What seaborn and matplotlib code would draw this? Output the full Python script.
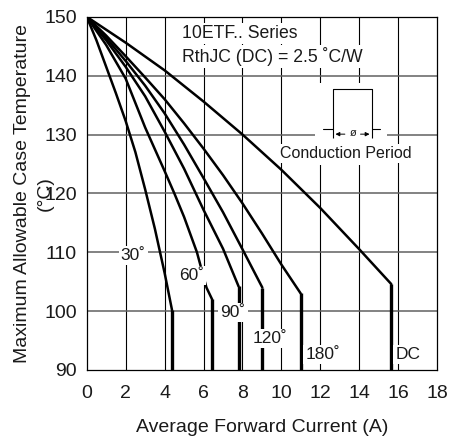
import matplotlib
matplotlib.use("Agg")
import matplotlib.pyplot as plt
import pandas as pd
import seaborn as sns

# values (A, degC)
current_30 = [0, 0.5, 1.0, 1.5, 2.0, 2.5, 3.0, 3.5, 4.0, 4.38]
temp_30 = [150, 146, 141.5, 137, 132.3, 127, 120.7, 114, 106.5, 100.2]
current_60 = [0, 1, 2, 3, 4, 4.5, 5, 5.66, 6.15, 6.44]
temp_60 = [150, 145.2, 139.5, 131.2, 123.8, 120, 116, 110, 104, 102]
current_90 = [0, 1, 2, 3, 4, 5, 6, 7, 7.8]
temp_90 = [150, 146, 141.5, 136.5, 130.5, 124.2, 117.2, 110.6, 104.2]
current_120 = [0, 1, 2, 3, 4, 5, 6, 7, 8, 9.02]
temp_120 = [150, 146.4, 142.5, 138.3, 133.6, 128.3, 122.6, 116.8, 110.5, 104]
current_180 = [0, 1, 2, 3, 4, 5, 6, 7, 8, 9, 10, 10.99]
temp_180 = [150, 146.8, 143.3, 139.7, 136, 131.9, 127.6, 123.1, 118.3, 113.2, 107.9, 103]
current_dc = [0, 2, 4, 6, 8, 10, 12, 14, 15.64]
temp_dc = [150, 145.6, 140.9, 135.6, 130, 124, 117.5, 110.5, 104.6]

curve_names = ["30˚", "60˚", "90˚", "120˚", "180˚", "DC"]
curves = [(current_30, temp_30), (current_60, temp_60), (current_90, temp_90),
          (current_120, temp_120), (current_180, temp_180), (current_dc, temp_dc)]
label_pos = [(2.39, 109.4), (5.38, 106.1), (7.52, 99.75), (9.4, 95.4), (12.13, 92.6), (16.5, 92.6)]

x_ticks = list(range(0, 19, 2))
y_ticks = list(range(90, 151, 10))

sns.set_style("white")
plt.rcParams["font.family"] = ["Liberation Sans", "DejaVu Sans"]
plt.rcParams["text.color"] = "#1a1a1a"

fig = plt.figure(figsize=(4.54, 4.41), dpi=100)
ax = fig.add_axes([0.191, 0.161, 0.772, 0.801])

rows = []
for name, (cur, tmp) in zip(curve_names, curves):
    for c, t in zip(cur, tmp):
        rows.append({"angle": name, "current": c, "temp": t})
df = pd.DataFrame(rows)

sns.lineplot(data=df, x="current", y="temp", hue="angle", units="angle", estimator=None,
             palette={n: "black" for n in curve_names}, legend=False, lw=1.8, ax=ax, zorder=3)

# vertical drop at the end of each curve
ends_x = [c[0][-1] for c in curves]
ends_y = [c[1][-1] for c in curves]
ax.vlines(ends_x, y_ticks[0], ends_y, color="black", lw=2.4, zorder=3)

ax.set_xlim(0, 18)
ax.set_ylim(90, 150)
ax.set_xticks(x_ticks)
ax.set_yticks(y_ticks)
ax.tick_params(axis="both", length=0, labelsize=14, labelcolor="#1a1a1a")
ax.tick_params(axis="x", pad=11)
ax.tick_params(axis="y", pad=7)

for x in x_ticks[1:-1]:
    ax.axvline(x, color="black", lw=0.8, zorder=1)
for y in y_ticks[1:-1]:
    ax.axhline(y, color="#606060", lw=1.1, zorder=1)
for sp in ax.spines.values():
    sp.set_color("black")
    sp.set_linewidth(0.9)

ax.set_xlabel("Average Forward Current (A)", fontsize=14, color="#1a1a1a")
ax.set_ylabel("Maximum Allowable Case Temperature", fontsize=14, color="#1a1a1a")
ax.xaxis.set_label_coords(0.5, -0.14)
ax.yaxis.set_label_coords(-0.16, 0.5)
ax.text(-0.119, 0.5, "(°C)", transform=ax.transAxes, rotation=90, fontsize=14,
        ha="center", va="center", color="#1a1a1a")

box = dict(facecolor="white", edgecolor="none", pad=1.5)
for name, (lx, ly) in zip(curve_names, label_pos):
    ax.text(lx, ly, name, fontsize=12.5, ha="center", va="center", bbox=box, zorder=4)

ax.text(4.9, 147.2, "10ETF.. Series", fontsize=12.7, ha="left", va="center", bbox=box, zorder=4)
ax.text(4.9, 143.2, "RthJC (DC) = 2.5 ˚C/W", fontsize=12.7, ha="left", va="center", bbox=box, zorder=4)

# conduction period sketch
ax.add_patch(plt.Rectangle((11.73, 124.8), 3.69, 13.9, facecolor="white", edgecolor="none", zorder=2))
ax.plot([12.15, 12.63, 12.63, 14.67, 14.67, 15.06], [130.91, 130.91, 137.71, 137.71, 130.91, 130.91],
        color="black", lw=0.8, zorder=4)
ax.vlines([12.63, 14.67], 129.33, 130.91, color="black", lw=0.8, zorder=4)
ax.annotate("", xy=(12.63, 130.06), xytext=(13.4, 130.06),
            arrowprops=dict(arrowstyle="-|>", color="black", lw=0.7, mutation_scale=6), zorder=4)
ax.annotate("", xy=(14.67, 130.06), xytext=(13.92, 130.06),
            arrowprops=dict(arrowstyle="-|>", color="black", lw=0.7, mutation_scale=6), zorder=4)
ax.text(13.66, 130.3, "ø", fontsize=8, ha="center", va="center", zorder=4)
ax.text(13.29, 126.8, "Conduction Period", fontsize=11.5, ha="center", va="center", bbox=box, zorder=4)

fig.savefig("out.png", dpi=100)
